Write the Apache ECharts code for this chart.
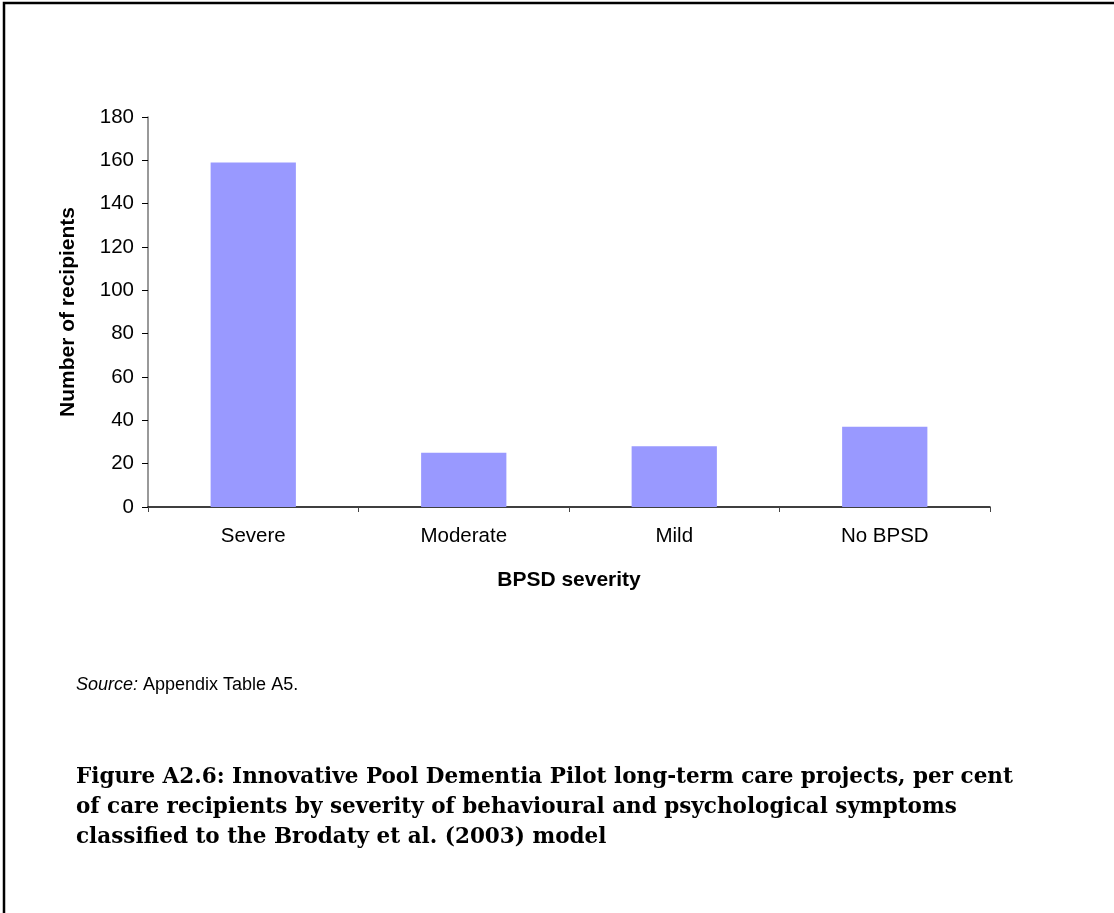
<!DOCTYPE html>
<html>
<head>
<meta charset="utf-8">
<script src="https://cdn.jsdelivr.net/npm/echarts@6/dist/echarts.min.js"></script>
<style>
html,body{margin:0;padding:0;background:#fff;}
#c{width:1114px;height:913px;}
</style>
</head>
<body>
<div id="c"></div>
<script>
const categories = ['Severe', 'Moderate', 'Mild', 'No BPSD'];
const recipients = [159, 25, 28, 37];
const yTicks = [0, 20, 40, 60, 80, 100, 120, 140, 160, 180];
const captionLines = [
  'Figure A2.6: Innovative Pool Dementia Pilot long-term care projects, per cent',
  'of care recipients by severity of behavioural and psychological symptoms',
  'classified to the Brodaty et al. (2003) model'
];

const chart = echarts.init(document.getElementById('c'));
const sans = '"Liberation Sans", Arial, sans-serif';
const serif = '"DejaVu Serif", serif';

chart.setOption({
  animation: false,
  backgroundColor: '#fff',
  grid: {left: 148, right: 124, top: 117, bottom: 406, containLabel: false},
  xAxis: {
    type: 'category',
    data: categories,
    boundaryGap: true,
    name: 'BPSD severity',
    nameLocation: 'middle',
    nameGap: 63,
    nameTextStyle: {fontFamily: sans, fontSize: 21, fontWeight: 'bold', color: '#000', verticalAlign: 'top'},
    axisLine: {lineStyle: {color: '#000', width: 1.5}},
    axisTick: {show: true, alignWithLabel: false, length: 5, lineStyle: {color: '#444'}},
    axisLabel: {fontFamily: sans, fontSize: 20.5, color: '#000', margin: 19},
    splitLine: {show: false}
  },
  yAxis: {
    type: 'value',
    min: 0, max: 180, interval: 20,
    name: 'Number of recipients',
    nameLocation: 'middle',
    nameGap: 69,
    nameTextStyle: {fontFamily: sans, fontSize: 21, fontWeight: 'bold', color: '#000'},
    axisLine: {show: true, lineStyle: {color: '#777', width: 1.5}},
    axisTick: {show: true, length: 6, lineStyle: {color: '#000'}},
    axisLabel: {fontFamily: sans, fontSize: 20.5, color: '#000', margin: 14,
      formatter: v => yTicks.includes(v) ? String(v) : ''},
    splitLine: {show: false}
  },
  series: [{
    type: 'bar',
    data: recipients,
    barWidth: '40.5%',
    itemStyle: {color: '#9999FF'}
  }],
  graphic: [
    {type: 'polyline', shape: {points: [[4, 913], [4, 3], [1114, 3]]}, style: {stroke: '#000', lineWidth: 2.5, fill: null}},
    {type: 'text', left: 76, top: 676, style: {
      text: '{i|Source:} Appendix Table A5.',
      rich: {i: {fontStyle: 'italic', fontFamily: sans, fontSize: 18, fill: '#000'}},
      fontFamily: sans, fontSize: 18, fill: '#000'}},
    {type: 'text', left: 76, top: 762, style: {
      text: captionLines.join('\n'),
      fontFamily: serif, fontWeight: 'bold', fontSize: 21.5, lineHeight: 30, fill: '#000'}}
  ]
});
</script>
</body>
</html>
